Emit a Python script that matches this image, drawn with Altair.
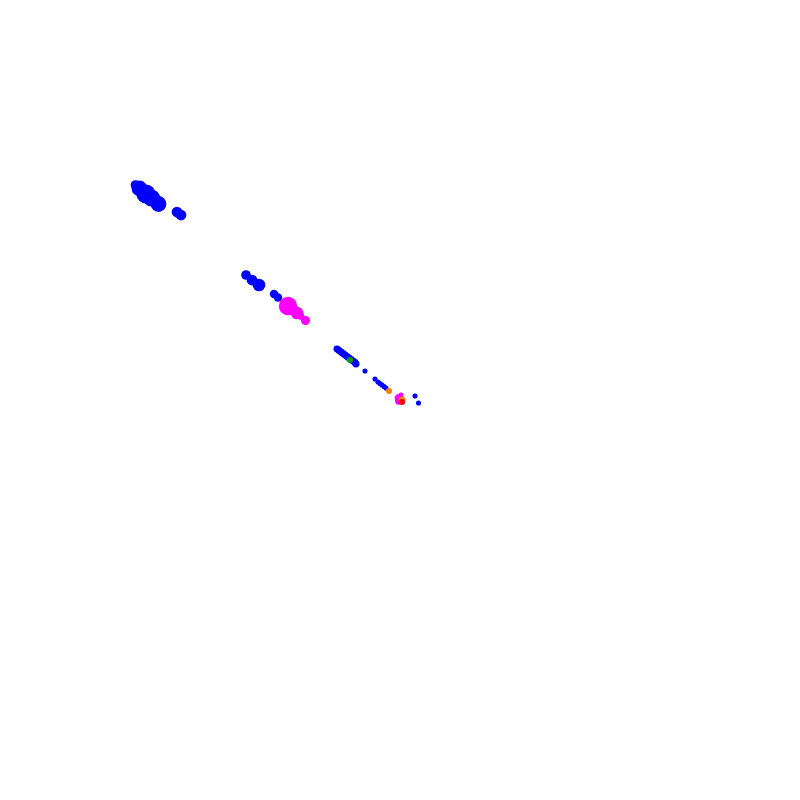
import altair as alt
import pandas as pd

# positions (x to the right, y downward), marker size and colour group
xs = [135.5, 139.5, 146, 151.5, 158.5, 177, 181,
      246, 252, 259, 274, 278,
      288, 297, 301, 305.5,
      337, 339, 341, 343, 345, 347, 349, 351, 353, 355, 356, 350,
      365, 375, 378, 380, 382, 384, 386,
      389, 398.5, 399, 401, 402, 402, 415, 418.5]
ys = [185, 188.5, 194, 198, 204, 212, 215,
      275, 280, 285, 294, 297.5,
      306, 313, 316.5, 320.5,
      349, 350.5, 352, 353.5, 355, 356.5, 358, 359.5, 361, 362.5, 364, 360,
      371, 379, 382, 383.5, 385, 386.5, 388,
      391, 398, 401, 395, 400, 402, 396, 403]
sizes = [8, 22, 32, 26, 22, 10, 10,
         8, 10, 14, 6, 6,
         30, 14, 4, 7,
         4, 4, 4, 4, 4, 4, 4, 4, 4, 4, 4, 3,
         2, 2, 2, 2, 2, 2, 2,
         3, 5, 5, 2, 4, 3, 2, 2]
groups = ["a"] * 7 + ["a"] * 5 + ["b"] * 4 + ["a"] * 11 + ["g"] + ["a"] * 7 + \
         ["o", "b", "b", "b", "o", "r", "a", "a"]

df = pd.DataFrame({"x": [v - 8 for v in xs], "y": [v - 8 for v in ys],
                   "s": sizes, "g": groups})

chart = alt.Chart(df).mark_circle(opacity=1).encode(
    x=alt.X("x:Q", scale=alt.Scale(domain=[0, 784], nice=False, zero=False), axis=None),
    y=alt.Y("y:Q", scale=alt.Scale(domain=[0, 784], nice=False, zero=False, reverse=True), axis=None),
    size=alt.Size("s:Q", scale=alt.Scale(type="identity"), legend=None),
    color=alt.Color("g:N", scale=alt.Scale(domain=["a", "b", "g", "o", "r"],
                    range=["#0000ff", "#ff00ff", "#00a000", "#ff8000", "#ff0000"]), legend=None),
).properties(width=784, height=784, padding=0, autosize="none").configure_view(stroke=None)

chart.save("out.html", embed_options={"renderer": "svg", "actions": False})
